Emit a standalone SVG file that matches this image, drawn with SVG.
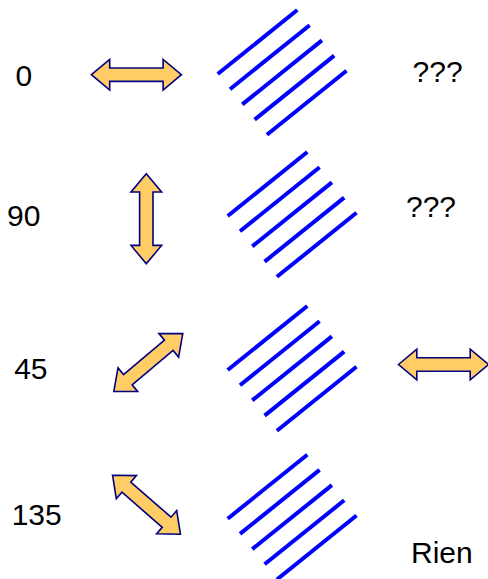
<svg xmlns="http://www.w3.org/2000/svg" xmlns:xlink="http://www.w3.org/1999/xlink" width="488" height="579" viewBox="0 0 488 579">
<style>
.lbl{font-family:"Liberation Sans",Arial,sans-serif;font-size:30px;fill:#000}
.arr{fill:#FFCC66;stroke:#000080;stroke-width:1.6;stroke-linejoin:miter}
.grat line{stroke:#0000FF;stroke-width:4}
</style>
<defs>
<path id="arrow" class="arr" d="M-45,0 L-26.7,-15.3 L-26.7,-6.7 L26.7,-6.7 L26.7,-15.3 L45,0 L26.7,15.3 L26.7,6.7 L-26.7,6.7 L-26.7,15.3 Z"/>
<g id="grating" class="grat">
<line x1="217.7" y1="74" x2="297.3" y2="10"/>
<line x1="230" y1="89.2" x2="309.6" y2="25.2"/>
<line x1="242.3" y1="104.4" x2="321.9" y2="40.4"/>
<line x1="254.6" y1="119.6" x2="334.2" y2="55.6"/>
<line x1="266.9" y1="134.8" x2="346.5" y2="70.8"/>
</g>
</defs>
<g id="row0">
<text class="lbl" x="15.4" y="86">0</text>
<use id="arrow0" xlink:href="#arrow" href="#arrow" transform="translate(136.4,74.7)"/>
<use id="grating0" xlink:href="#grating" href="#grating"/>
<text class="lbl" x="412.6" y="81.5">???</text>
</g>
<g id="row90">
<text class="lbl" x="7" y="226">90</text>
<use id="arrow90" xlink:href="#arrow" href="#arrow" transform="translate(146.3,218.7) rotate(90)"/>
<use id="grating90" xlink:href="#grating" href="#grating" transform="translate(10,142)"/>
<text class="lbl" x="406" y="216.5">???</text>
</g>
<g id="row45">
<text class="lbl" x="14.2" y="379">45</text>
<use id="arrow45" xlink:href="#arrow" href="#arrow" transform="translate(148.3,362.5) rotate(-40)"/>
<use id="grating45" xlink:href="#grating" href="#grating" transform="translate(10,296)"/>
<use id="arrowOut45" xlink:href="#arrow" href="#arrow" transform="translate(443.5,364.5)"/>
</g>
<g id="row135">
<text class="lbl" x="11.7" y="525">135</text>
<use id="arrow135" xlink:href="#arrow" href="#arrow" transform="translate(146.5,504.7) rotate(41)"/>
<use id="grating135" xlink:href="#grating" href="#grating" transform="translate(10,444.7)"/>
<text class="lbl" x="411" y="563">Rien</text>
</g>
</svg>
